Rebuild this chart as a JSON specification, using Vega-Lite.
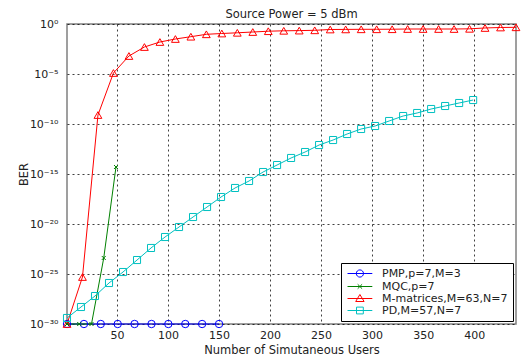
{
  "$schema": "https://vega.github.io/schema/vega-lite/v6.json",
  "autosize": {"type": "none"},
  "width": 449,
  "height": 300,
  "padding": {"left": 67, "top": 24, "right": 8, "bottom": 35},
  "background": "white",
  "title": {"text": "Source Power = 5 dBm", "font": "DejaVu Sans", "fontSize": 11.5, "fontWeight": "normal", "color": "#222", "offset": -2, "anchor": "middle"},
  "config": {
    "view": {"stroke": "#808080", "strokeWidth": 1.5},
    "axis": {"labelFont": "DejaVu Sans", "labelFontSize": 11, "labelColor": "#222", "titleFont": "DejaVu Sans", "titleFontSize": 11.5, "titleFontWeight": "normal", "titleColor": "#222", "domain": false, "ticks": false, "grid": true, "gridColor": "#000", "gridDash": [2, 3], "gridOpacity": 0.75, "gridWidth": 1}
  },
  "data": {"values": [
    {"s": "PMP,p=7,M=3", "x": 1, "ber": 1e-30},
    {"s": "PMP,p=7,M=3", "x": 17.6, "ber": 1e-30},
    {"s": "PMP,p=7,M=3", "x": 34.1, "ber": 1e-30},
    {"s": "PMP,p=7,M=3", "x": 50.7, "ber": 1e-30},
    {"s": "PMP,p=7,M=3", "x": 67.2, "ber": 1e-30},
    {"s": "PMP,p=7,M=3", "x": 83.8, "ber": 1e-30},
    {"s": "PMP,p=7,M=3", "x": 100.3, "ber": 1e-30},
    {"s": "PMP,p=7,M=3", "x": 116.9, "ber": 1e-30},
    {"s": "PMP,p=7,M=3", "x": 133.4, "ber": 1e-30},
    {"s": "PMP,p=7,M=3", "x": 150, "ber": 1e-30},
    {"s": "MQC,p=7", "x": 1, "ber": 1e-30},
    {"s": "MQC,p=7", "x": 13, "ber": 1e-30},
    {"s": "MQC,p=7", "x": 25, "ber": 1e-30},
    {"s": "MQC,p=7", "x": 37, "ber": 4.0e-24},
    {"s": "MQC,p=7", "x": 49, "ber": 5.0e-15},
    {"s": "M-matrices,M=63,N=7", "x": 1, "ber": 1e-30},
    {"s": "M-matrices,M=63,N=7", "x": 16.17, "ber": 5.0e-26},
    {"s": "M-matrices,M=63,N=7", "x": 31.34, "ber": 7.9e-10},
    {"s": "M-matrices,M=63,N=7", "x": 46.52, "ber": 1.26e-5},
    {"s": "M-matrices,M=63,N=7", "x": 61.69, "ber": 6.3e-4},
    {"s": "M-matrices,M=63,N=7", "x": 76.86, "ber": 5.0e-3},
    {"s": "M-matrices,M=63,N=7", "x": 92.03, "ber": 0.0158},
    {"s": "M-matrices,M=63,N=7", "x": 107.21, "ber": 0.0316},
    {"s": "M-matrices,M=63,N=7", "x": 122.38, "ber": 0.0537},
    {"s": "M-matrices,M=63,N=7", "x": 137.55, "ber": 0.0933},
    {"s": "M-matrices,M=63,N=7", "x": 152.72, "ber": 0.112},
    {"s": "M-matrices,M=63,N=7", "x": 167.9, "ber": 0.132},
    {"s": "M-matrices,M=63,N=7", "x": 183.07, "ber": 0.158},
    {"s": "M-matrices,M=63,N=7", "x": 198.24, "ber": 0.19},
    {"s": "M-matrices,M=63,N=7", "x": 213.41, "ber": 0.209},
    {"s": "M-matrices,M=63,N=7", "x": 228.59, "ber": 0.219},
    {"s": "M-matrices,M=63,N=7", "x": 243.76, "ber": 0.234},
    {"s": "M-matrices,M=63,N=7", "x": 258.93, "ber": 0.282},
    {"s": "M-matrices,M=63,N=7", "x": 274.1, "ber": 0.288},
    {"s": "M-matrices,M=63,N=7", "x": 289.28, "ber": 0.295},
    {"s": "M-matrices,M=63,N=7", "x": 304.45, "ber": 0.297},
    {"s": "M-matrices,M=63,N=7", "x": 319.62, "ber": 0.30},
    {"s": "M-matrices,M=63,N=7", "x": 334.79, "ber": 0.316},
    {"s": "M-matrices,M=63,N=7", "x": 349.97, "ber": 0.316},
    {"s": "M-matrices,M=63,N=7", "x": 365.14, "ber": 0.316},
    {"s": "M-matrices,M=63,N=7", "x": 380.31, "ber": 0.316},
    {"s": "M-matrices,M=63,N=7", "x": 395.48, "ber": 0.33},
    {"s": "M-matrices,M=63,N=7", "x": 410.66, "ber": 0.40},
    {"s": "M-matrices,M=63,N=7", "x": 425.83, "ber": 0.447},
    {"s": "M-matrices,M=63,N=7", "x": 441, "ber": 0.468},
    {"s": "PD,M=57,N=7", "x": 1, "ber": 4.0e-30},
    {"s": "PD,M=57,N=7", "x": 14.72, "ber": 5.0e-29},
    {"s": "PD,M=57,N=7", "x": 28.45, "ber": 6.3e-28},
    {"s": "PD,M=57,N=7", "x": 42.17, "ber": 1.26e-26},
    {"s": "PD,M=57,N=7", "x": 55.9, "ber": 1.58e-25},
    {"s": "PD,M=57,N=7", "x": 69.62, "ber": 2.5e-24},
    {"s": "PD,M=57,N=7", "x": 83.34, "ber": 4.0e-23},
    {"s": "PD,M=57,N=7", "x": 97.07, "ber": 5.0e-22},
    {"s": "PD,M=57,N=7", "x": 110.79, "ber": 5.0e-21},
    {"s": "PD,M=57,N=7", "x": 124.52, "ber": 5.0e-20},
    {"s": "PD,M=57,N=7", "x": 138.24, "ber": 5.0e-19},
    {"s": "PD,M=57,N=7", "x": 151.97, "ber": 5.0e-18},
    {"s": "PD,M=57,N=7", "x": 165.69, "ber": 4.0e-17},
    {"s": "PD,M=57,N=7", "x": 179.41, "ber": 2.0e-16},
    {"s": "PD,M=57,N=7", "x": 193.14, "ber": 1.58e-15},
    {"s": "PD,M=57,N=7", "x": 206.86, "ber": 7.9e-15},
    {"s": "PD,M=57,N=7", "x": 220.59, "ber": 4.0e-14},
    {"s": "PD,M=57,N=7", "x": 234.31, "ber": 1.58e-13},
    {"s": "PD,M=57,N=7", "x": 248.03, "ber": 7.9e-13},
    {"s": "PD,M=57,N=7", "x": 261.76, "ber": 2.5e-12},
    {"s": "PD,M=57,N=7", "x": 275.48, "ber": 1.0e-11},
    {"s": "PD,M=57,N=7", "x": 289.21, "ber": 3.16e-11},
    {"s": "PD,M=57,N=7", "x": 302.93, "ber": 6.3e-11},
    {"s": "PD,M=57,N=7", "x": 316.66, "ber": 2.0e-10},
    {"s": "PD,M=57,N=7", "x": 330.38, "ber": 6.3e-10},
    {"s": "PD,M=57,N=7", "x": 344.1, "ber": 1.26e-9},
    {"s": "PD,M=57,N=7", "x": 357.83, "ber": 3.16e-9},
    {"s": "PD,M=57,N=7", "x": 371.55, "ber": 6.3e-9},
    {"s": "PD,M=57,N=7", "x": 385.28, "ber": 1.26e-8},
    {"s": "PD,M=57,N=7", "x": 399, "ber": 2.5e-8}
  ]},
  "encoding": {
    "x": {"field": "x", "type": "quantitative", "scale": {"domain": [1, 441], "nice": false, "zero": false},
      "axis": {"title": "Number of Simutaneous Users", "values": [50, 100, 150, 200, 250, 300, 350, 400], "labelPadding": 5, "titlePadding": 4}},
    "y": {"field": "ber", "type": "quantitative", "scale": {"type": "log", "domain": [1e-30, 1], "nice": false},
      "axis": {"title": "BER", "values": [1e-30, 1e-25, 1e-20, 1e-15, 1e-10, 1e-5, 1], "labelPadding": 9, "titleX": -38, "titleY": 150,
        "labelExpr": "'10' + replace(replace(replace(replace(replace(replace('' + round(log(datum.value)/LN10), '-', '⁻'), '0', '⁰'), '1', '¹'), '2', '²'), '3', '³'), '5', '⁵')"}},
    "color": {"field": "s", "type": "nominal", "sort": null,
      "scale": {"domain": ["PMP,p=7,M=3", "MQC,p=7", "M-matrices,M=63,N=7", "PD,M=57,N=7"], "range": ["#0000ff", "#008000", "#ff0000", "#00c0c0"]},
      "legend": {"title": null, "orient": "bottom-right", "offset": 3, "strokeColor": "#000", "fillColor": "#fff", "padding": 5,
        "labelFont": "DejaVu Sans", "labelFontSize": 11, "labelColor": "#222", "symbolSize": 64, "labelOffset": 25, "rowPadding": 0,
        "encode": {"symbols": {"update": {
          "shape": {"signal": "datum.value == 'PMP,p=7,M=3' ? 'M-1,0H5.2M1.2,0A0.9,0.9,0,1,0,3,0A0.9,0.9,0,1,0,1.2,0' : datum.value == 'MQC,p=7' ? 'M-1,0H5.2M1.55,-0.55L2.65,0.55M1.55,0.55L2.65,-0.55' : datum.value == 'M-matrices,M=63,N=7' ? 'M-1,0H5.2M2.1,-1L3.15,0.75L1.05,0.75Z' : 'M-1,0H5.2M1.25,-0.85H2.95V0.85H1.25Z'"},
          "fill": {"value": "transparent"},
          "strokeWidth": {"value": 1},
          "opacity": {"value": 1}
        }}}}}
  },
  "layer": [
    {"mark": {"type": "line", "strokeWidth": 1, "clip": false}},
    {"transform": [{"filter": "datum.s == 'PMP,p=7,M=3'"}],
      "mark": {"type": "point", "shape": "circle", "filled": false, "size": 55, "strokeWidth": 1, "opacity": 1, "clip": false}},
    {"transform": [{"filter": "datum.s == 'MQC,p=7'"}],
      "mark": {"type": "point", "shape": "M-1,-1L1,1M-1,1L1,-1", "filled": false, "size": 16, "strokeWidth": 1, "opacity": 1, "clip": false}},
    {"transform": [{"filter": "datum.s == 'M-matrices,M=63,N=7'"}],
      "mark": {"type": "point", "shape": "triangle-up", "filled": false, "size": 60, "strokeWidth": 1, "opacity": 1, "clip": false}},
    {"transform": [{"filter": "datum.s == 'PD,M=57,N=7'"}],
      "mark": {"type": "point", "shape": "square", "filled": false, "size": 50, "strokeWidth": 1, "opacity": 1, "clip": false}}
  ]
}
